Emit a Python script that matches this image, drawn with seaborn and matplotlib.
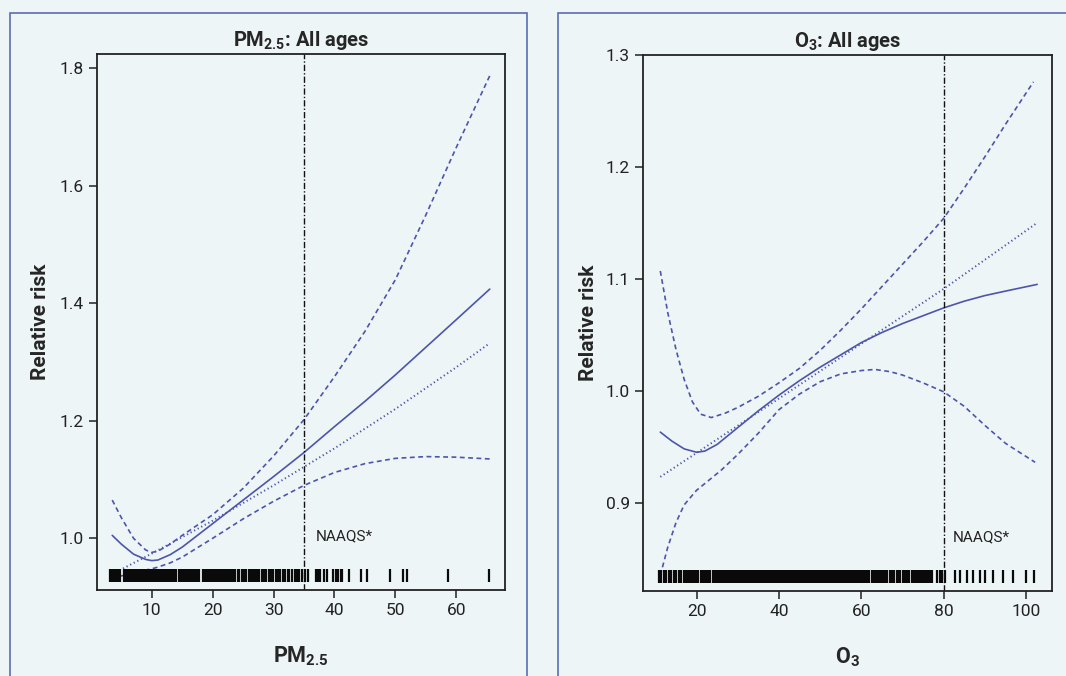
import numpy as np
import pandas as pd
import seaborn as sns
import matplotlib.pyplot as plt
from matplotlib.patches import Rectangle

# ---- PM2.5 panel ----
pm_x = [3.5, 5, 7, 9, 10, 11, 13, 15, 20, 25, 30, 35, 40, 45, 50, 55, 60, 65.5]
pm_fit = [1.005, 0.990, 0.973, 0.964, 0.962, 0.963, 0.972, 0.985, 1.025, 1.065,
          1.105, 1.146, 1.190, 1.233, 1.278, 1.325, 1.372, 1.424]
pm_upper = [1.065, 1.035, 1.000, 0.980, 0.976, 0.978, 0.990, 1.005, 1.040, 1.085,
            1.140, 1.202, 1.275, 1.352, 1.440, 1.550, 1.665, 1.787]
pm_lower = [0.932, 0.936, 0.941, 0.946, 0.948, 0.951, 0.958, 0.968, 1.000, 1.033,
            1.063, 1.090, 1.112, 1.127, 1.136, 1.139, 1.138, 1.135]
pm_lin_x = [3.5, 10, 20, 30, 40, 50, 60, 65.5]
pm_lin = [0.939, 0.974, 1.030, 1.090, 1.153, 1.220, 1.291, 1.332]
pm_rug = [3.1, 3.3, 3.6, 3.8, 4.0, 4.3, 4.5, 4.8, 5.4, 5.6, 5.9, 6.1, 6.3, 6.6, 6.8,
          7.0, 7.3, 7.5, 7.7, 8.0, 8.2, 8.4, 8.7, 8.9, 9.1, 9.4, 9.6, 9.8, 10.1, 10.3,
          10.5, 10.8, 11.0, 11.2, 11.5, 11.7, 11.9, 12.2, 12.4, 12.6, 12.9, 13.1, 13.4,
          13.7, 14.0, 14.5, 14.8, 15.0, 15.2, 15.5, 15.7, 16.0, 16.2, 16.4, 16.7, 16.9,
          17.2, 17.4, 17.7, 18.4, 18.6, 18.9, 19.1, 19.3, 19.6, 19.8, 20.1, 20.3, 20.5,
          20.8, 21.0, 21.3, 21.5, 21.8, 22.0, 22.3, 22.7, 23.0, 23.4, 23.7, 24.1, 24.3,
          24.8, 25.1, 25.4, 25.9, 26.2, 26.5, 26.7, 27.0, 27.3, 27.6, 28.1, 28.5, 28.8,
          29.2, 29.6, 29.9, 30.4, 30.8, 31.1, 31.6, 31.9, 32.3, 32.6, 33.0, 33.5, 33.9,
          34.2, 34.6, 35.2, 35.6, 36.9, 37.3, 37.7, 38.2, 38.7, 39.8, 40.2, 40.6, 41.0,
          41.3, 42.4, 44.4, 45.4, 49.1, 51.3, 51.9, 58.7, 65.4]
pm_naaqs = 35

# ---- O3 panel ----
o3_x = [11.2, 14, 17, 20, 22, 25, 30, 35, 40, 45, 50, 55, 60, 65, 70, 75, 80,
        85, 90, 95, 102.7]
o3_fit = [0.963, 0.955, 0.948, 0.945, 0.946, 0.952, 0.967, 0.982, 0.996, 1.009,
          1.021, 1.032, 1.043, 1.052, 1.060, 1.067, 1.074, 1.080, 1.085, 1.089, 1.095]
o3_up_x = [11.2, 13, 15, 17, 19, 21, 23.6, 27, 30, 35, 40, 45, 50, 55, 60, 65, 70,
           75, 80, 85, 90, 95, 101.8]
o3_upper = [1.107, 1.070, 1.037, 1.010, 0.990, 0.979, 0.976, 0.980, 0.985, 0.995,
            1.007, 1.020, 1.036, 1.054, 1.073, 1.093, 1.113, 1.133, 1.154, 1.181,
            1.209, 1.238, 1.276]
o3_lo_x = [11.2, 13, 15, 17, 20, 23, 26, 30, 35, 40, 45, 50, 55, 60, 63.3, 67, 70,
           75, 80, 85, 90, 95, 102.2]
o3_lower = [0.835, 0.860, 0.882, 0.898, 0.911, 0.920, 0.929, 0.943, 0.962, 0.983,
            0.997, 1.008, 1.015, 1.018, 1.019, 1.017, 1.014, 1.007, 0.999, 0.986,
            0.969, 0.953, 0.936]
o3_lin_x = [11.2, 40, 80, 102.7]
o3_lin = [0.923, 0.993, 1.091, 1.150]
o3_rug = [10.8, 11.4, 12.0, 12.6, 13.3, 13.9, 14.5, 15.1, 15.7, 16.3, 16.9, 17.5,
          18.0, 18.4, 18.8, 19.2, 19.6, 20.0, 20.4, 21.0, 21.4, 21.8, 22.2, 22.6, 23.0,
          23.3, 23.9, 24.3, 24.7, 25.1, 25.5, 25.9, 26.3, 26.7, 27.1, 27.5, 27.9, 28.3,
          28.7, 29.1, 29.5, 29.9, 30.3, 30.7, 31.1, 31.5, 31.9, 32.3, 32.7, 33.1, 33.5,
          33.9, 34.3, 34.7, 35.1, 35.5, 35.9, 36.3, 36.7, 37.1, 37.5, 37.9, 38.3, 38.7,
          39.1, 39.5, 39.9, 40.3, 40.7, 41.1, 41.5, 41.9, 42.3, 42.7, 43.1, 43.5, 43.9,
          44.3, 44.7, 45.1, 45.5, 45.9, 46.3, 46.7, 47.1, 47.5, 47.9, 48.3, 48.7, 49.1,
          49.5, 49.9, 50.3, 50.7, 51.1, 51.5, 51.9, 52.3, 52.7, 53.1, 53.5, 53.9, 54.3,
          54.7, 55.1, 55.5, 55.9, 56.3, 56.7, 57.1, 57.5, 57.9, 58.3, 58.7, 59.1, 59.5,
          59.9, 60.3, 60.7, 61.1, 61.5, 61.9, 62.5, 62.9, 63.3, 63.7, 64.1, 64.5, 64.9,
          65.3, 65.8, 66.2, 66.9, 67.5, 67.9, 68.6, 69.1, 69.5, 70.2, 70.6, 71.2, 71.6,
          72.3, 72.8, 73.3, 73.8, 74.3, 74.8, 75.2, 75.7, 76.2, 76.6, 77.1, 78.5, 79.0,
          79.6, 80.3, 82.8, 84.0, 85.7, 87.2, 88.9, 90.1, 92.0, 94.5, 96.9, 100.0, 102.0]
o3_naaqs = 80

bg = "#eef5f7"
line_c = "#4c55ab"

sns.set_style("ticks")
plt.rcParams["font.family"] = ["Roboto", "DejaVu Sans"]
plt.rcParams["mathtext.fontset"] = "custom"
plt.rcParams["mathtext.rm"] = "Roboto"
plt.rcParams["mathtext.bf"] = "Roboto:bold"
plt.rcParams["lines.scale_dashes"] = False

fig = plt.figure(figsize=(10.66, 6.76), dpi=100, facecolor=bg)

# blue panel frames
for x0, w in [(10, 517), (558, 520)]:
    fig.patches.append(Rectangle((x0 / 1066, -0.05), w / 1066, (676 - 13) / 676 + 0.05,
                                 transform=fig.transFigure, fill=False,
                                 edgecolor="#5b6db4", linewidth=1.2))

ax1 = fig.add_axes([97 / 1066, 86 / 676, 408 / 1066, 536 / 676])
ax2 = fig.add_axes([643 / 1066, 85 / 676, 409 / 1066, 536 / 676])


def draw_panel(ax, fx, fy, ux, uy, lx, ly, linx, liny, rug, naaqs, txt_xy,
               xlim, ylim, yticks, xticks, title, xlabel, ylab_x):
    ax.set_facecolor(bg)
    sns.lineplot(x=fx, y=fy, ax=ax, color=line_c, linewidth=1.2, estimator=None)
    sns.lineplot(x=ux, y=uy, ax=ax, color=line_c, linewidth=1.2, estimator=None,
                 linestyle=(0, (3.5, 2.5)))
    sns.lineplot(x=lx, y=ly, ax=ax, color=line_c, linewidth=1.2, estimator=None,
                 linestyle=(0, (3.5, 2.5)))
    sns.lineplot(x=linx, y=liny, ax=ax, color=line_c, linewidth=1.4, estimator=None,
                 linestyle=(0, (0.9, 2.0)))
    ax.vlines(rug, 0.015, 0.04, transform=ax.get_xaxis_transform(),
              color="#0a0a0a", linewidth=1.6)
    ax.axvline(naaqs, color="#111111", linewidth=1.0,
               linestyle=(0, (4.5, 1.5, 1.0, 1.5)))
    ax.text(txt_xy[0], txt_xy[1], "NAAQS*", fontsize=11, color="#222222",
            va="center", ha="left")
    ax.set_xlim(*xlim)
    ax.set_ylim(*ylim)
    ax.set_yticks(yticks)
    ax.set_xticks(xticks)
    ax.yaxis.set_major_formatter(plt.FormatStrFormatter("%.1f"))
    ax.tick_params(direction="out", length=6, width=1.1, labelsize=12.5,
                   colors="#222222", top=False, right=False)
    for s in ax.spines.values():
        s.set_visible(True)
        s.set_linewidth(1.3)
        s.set_color("#222222")
    ax.set_title(title, fontsize=14.5, fontweight="bold", pad=6)
    ax.set_xlabel(xlabel, fontsize=15.5, fontweight="bold", labelpad=19)
    ax.set_ylabel("Relative risk", fontsize=15, fontweight="bold")
    ax.yaxis.set_label_coords(ylab_x, 0.5)


draw_panel(ax1, pm_x, pm_fit, pm_x, pm_upper, pm_x, pm_lower, pm_lin_x, pm_lin,
           pm_rug, pm_naaqs, (37, 1.003), (1, 68), (0.912, 1.824),
           [1.0, 1.2, 1.4, 1.6, 1.8], [10, 20, 30, 40, 50, 60],
           r"PM$_{\mathbf{2.5}}$: All ages", r"PM$_{\mathbf{2.5}}$", -0.115)
draw_panel(ax2, o3_x, o3_fit, o3_up_x, o3_upper, o3_lo_x, o3_lower, o3_lin_x, o3_lin,
           o3_rug, o3_naaqs, (82.3, 0.869), (7, 106.3), (0.821, 1.298),
           [0.9, 1.0, 1.1, 1.2, 1.3], [20, 40, 60, 80, 100],
           r"O$_{\mathbf{3}}$: All ages", r"O$_{\mathbf{3}}$", -0.11)

fig.savefig("out.png", dpi=100, facecolor=bg)
